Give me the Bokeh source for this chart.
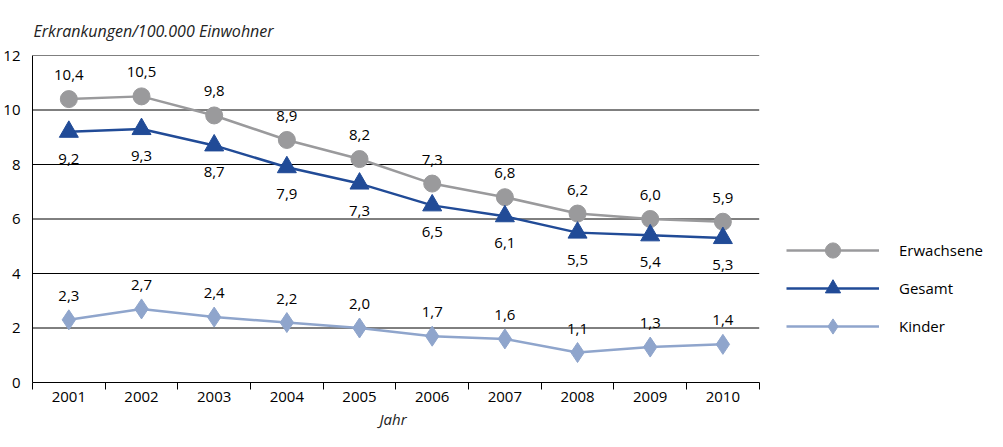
from bokeh.plotting import figure
from bokeh.models import (ColumnDataSource, FixedTicker, LabelSet, Legend, LegendItem,
                          Range1d, Title)
from bokeh.core.properties import value
from bokeh.embed import file_html
from bokeh.resources import INLINE

years = ["2001", "2002", "2003", "2004", "2005", "2006", "2007", "2008", "2009", "2010"]
erwachsene = [10.4, 10.5, 9.8, 8.9, 8.2, 7.3, 6.8, 6.2, 6.0, 5.9]
gesamt = [9.2, 9.3, 8.7, 7.9, 7.3, 6.5, 6.1, 5.5, 5.4, 5.3]
kinder = [2.3, 2.7, 2.4, 2.2, 2.0, 1.7, 1.6, 1.1, 1.3, 1.4]
y_ticks = [0, 2, 4, 6, 8, 10, 12]

FONT = "Open Sans"
FS = "15px"
C_ERW = "#9a9a9c"
C_GES = "#214b97"
C_KIN = "#8fa5cc"

W, H = 987, 431
LEFT = 29
PLOT_W = 729          # width of the data area (pixels)
FRAME_W = W - LEFT    # frame extends to the right edge so the legend can live in it

n = len(years)
x = [i + 1 for i in range(n)]
x_lo, x_hi = 0.5, n + 0.5
x_end = x_lo + (x_hi - x_lo) * FRAME_W / PLOT_W


def fmt(v):
    return f"{v:.1f}".replace(".", ",")


p = figure(width=W, height=H, output_backend="svg", toolbar_location=None,
           x_range=Range1d(x_lo, x_end), y_range=Range1d(0, 12),
           min_border_left=LEFT, min_border_right=0, min_border_top=55, min_border_bottom=49)
p.outline_line_color = None
p.background_fill_color = "white"
p.border_fill_color = "white"
p.xgrid.grid_line_color = None
p.ygrid.grid_line_color = None

p.title.text = "Erkrankungen/100.000 Einwohner"
p.title.align = "left"
p.title.offset = 1
p.title.standoff = 27
p.title.text_font = FONT
p.title.text_font_size = "16px"
p.title.text_font_style = "italic"
p.title.text_color = "#222222"

# y axis
p.yaxis.ticker = FixedTicker(ticks=y_ticks)
p.yaxis.major_tick_out = 0
p.yaxis.major_tick_in = 0
p.yaxis.minor_tick_out = 0
p.yaxis.minor_tick_in = 0
p.yaxis.axis_line_color = "black"
p.yaxis.major_label_standoff = 12
p.yaxis.major_label_text_font = FONT
p.yaxis.major_label_text_font_size = FS
p.yaxis.major_label_text_color = "black"

# x axis (line limited to the data area)
p.xaxis.ticker = FixedTicker(ticks=x, minor_ticks=[i + 0.5 for i in range(n + 1)])
p.xaxis.bounds = (x_lo, x_hi)
p.xaxis.major_label_overrides = {xi: y for xi, y in zip(x, years)}
p.xaxis.major_tick_out = 0
p.xaxis.major_tick_in = 0
p.xaxis.minor_tick_out = 7
p.xaxis.minor_tick_in = 0
p.xaxis.minor_tick_line_color = "black"
p.xaxis.axis_line_color = "black"
p.xaxis.major_label_standoff = 2
p.xaxis.major_label_text_font = FONT
p.xaxis.major_label_text_font_size = FS
p.xaxis.major_label_text_color = "black"

p.add_layout(Title(text="Jahr", align="left", offset=347, standoff=4, text_font=FONT,
                   text_font_size="15px", text_font_style="italic", text_color="#222222"),
             "below")

# horizontal grid lines, limited to the data area
grid_y = [t for t in y_ticks if t > 0]
p.segment(x0=[x_lo] * len(grid_y), x1=[x_hi] * len(grid_y), y0=grid_y, y1=grid_y,
          line_color="black", line_width=1)

src = ColumnDataSource(dict(
    x=x, erw=erwachsene, ges=gesamt, kin=kinder,
    erw_l=[fmt(v) for v in erwachsene],
    ges_l=[fmt(v) for v in gesamt],
    kin_l=[fmt(v) for v in kinder],
))

l1 = p.line("x", "erw", source=src, line_color=C_ERW, line_width=2.5)
m1 = p.scatter("x", "erw", source=src, marker="circle", size=17, fill_color=C_ERW, line_color=C_ERW)
l2 = p.line("x", "ges", source=src, line_color=C_GES, line_width=2.5)
m2 = p.scatter("x", "ges", source=src, marker="triangle", size=19, fill_color=C_GES, line_color=C_GES)
l3 = p.line("x", "kin", source=src, line_color=C_KIN, line_width=2.5)
m3 = p.scatter("x", "kin", source=src, marker="diamond", size=20, fill_color=C_KIN, line_color=C_KIN)

common = dict(source=src, text_align="center", text_baseline="middle",
              text_font=value(FONT), text_font_size=FS, text_color="black")
p.add_layout(LabelSet(x="x", y="erw", text="erw_l", y_offset=24, **common))
p.add_layout(LabelSet(x="x", y="ges", text="ges_l", y_offset=-27, **common))
p.add_layout(LabelSet(x="x", y="kin", text="kin_l", y_offset=24, **common))

legend = Legend(items=[
    LegendItem(label="Erwachsene", renderers=[l1, m1]),
    LegendItem(label="Gesamt", renderers=[l2, m2]),
    LegendItem(label="Kinder", renderers=[l3, m3]),
], location=(PLOT_W + 25, 37), glyph_width=93, glyph_height=38, label_height=38, spacing=0,
    label_standoff=20, padding=0, margin=0, border_line_color=None,
    background_fill_alpha=0, label_text_font=FONT, label_text_font_size=FS,
    label_text_color="black")
p.add_layout(legend, "center")

open("out.html", "w").write(file_html(p, INLINE))
